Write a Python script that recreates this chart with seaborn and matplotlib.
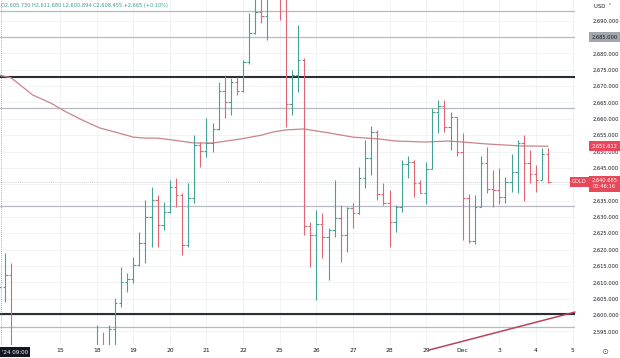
import numpy as np
import pandas as pd
import matplotlib
matplotlib.use("Agg")
import matplotlib.pyplot as plt
import seaborn as sns

# 4h bars, x = bar number (0 = first bar of the 15th); bars 14th/15th that sit below the window are left out
bar_idx = [-10, -9, -8] + list(range(6, 81))
opens = [2605.73, 2608.5, 2612.2,
         2586.0, 2589.0, 2588.0, 2595.6, 2603.7, 2610.2, 2611.0, 2615.3, 2622.1, 2630.1,
         2635.2, 2627.5, 2631.6, 2639.2, 2636.7, 2621.4, 2635.7, 2652.0, 2650.3, 2652.7,
         2656.8, 2668.6, 2665.2, 2671.3, 2668.6, 2677.5, 2686.1, 2692.8, 2691.5, 2701.0,
         2712.5, 2698.0, 2664.5, 2673.4, 2678.0, 2627.2, 2624.5, 2627.8, 2623.9, 2626.0,
         2629.6, 2624.5, 2632.6, 2631.1, 2641.8, 2647.9, 2656.1, 2636.9, 2634.2, 2628.5,
         2633.1, 2646.2, 2646.8, 2640.5, 2637.4, 2644.6, 2662.0, 2663.9, 2657.6, 2660.6,
         2649.9, 2635.7, 2622.7, 2633.1, 2646.6, 2638.4, 2638.2, 2636.2, 2640.8, 2643.6,
         2652.5, 2646.6, 2643.1, 2641.3, 2649.2]
highs = [2611.68, 2618.9, 2615.8,
         2596.9, 2594.9, 2596.9, 2605.1, 2614.8, 2612.7, 2617.8, 2625.5, 2635.2, 2639.2,
         2636.7, 2634.6, 2641.3, 2641.8, 2637.2, 2640.3, 2655.0, 2653.0, 2660.2, 2658.6,
         2671.3, 2673.1, 2672.4, 2672.9, 2678.0, 2692.3, 2698.5, 2699.0, 2704.0, 2712.0,
         2721.0, 2699.5, 2674.9, 2688.7, 2678.6, 2628.5, 2632.1, 2631.1, 2626.5, 2641.3,
         2633.6, 2633.1, 2634.2, 2645.4, 2653.5, 2657.8, 2656.6, 2640.5, 2638.2, 2633.6,
         2647.4, 2648.6, 2647.4, 2641.3, 2646.9, 2663.3, 2665.7, 2665.6, 2662.2, 2660.6,
         2655.6, 2637.0, 2636.7, 2648.6, 2651.5, 2644.3, 2644.9, 2642.3, 2649.2, 2653.4,
         2655.2, 2650.5, 2645.9, 2651.1, 2651.1]
lows = [2600.894, 2604.1, 2584.0,
        2582.0, 2584.0, 2586.0, 2589.0, 2602.5, 2607.1, 2609.7, 2615.0, 2615.8, 2620.9,
        2620.9, 2626.0, 2631.1, 2633.1, 2618.3, 2620.9, 2634.2, 2645.4, 2648.4, 2649.9,
        2656.6, 2660.2, 2661.2, 2667.3, 2668.3, 2676.9, 2685.8, 2689.3, 2684.1, 2698.5,
        2690.2, 2657.6, 2661.2, 2668.3, 2624.5, 2614.8, 2604.6, 2617.3, 2610.7, 2623.9,
        2616.3, 2619.4, 2626.5, 2630.8, 2638.7, 2642.8, 2635.2, 2633.6, 2620.9, 2625.5,
        2631.6, 2641.9, 2636.2, 2637.2, 2633.9, 2644.5, 2655.7, 2656.0, 2650.5, 2648.6,
        2622.9, 2622.0, 2621.7, 2633.1, 2637.2, 2633.1, 2633.9, 2634.3, 2637.7, 2637.3,
        2634.9, 2640.4, 2637.7, 2641.3, 2640.3]
closes = [2608.455, 2612.2, 2588.0,
          2589.0, 2588.0, 2595.6, 2603.7, 2610.2, 2611.0, 2615.3, 2622.1, 2630.1, 2635.2,
          2627.5, 2631.6, 2639.2, 2636.7, 2621.4, 2635.7, 2652.0, 2650.3, 2652.7, 2656.8,
          2668.6, 2665.2, 2671.3, 2668.6, 2677.5, 2686.1, 2692.8, 2691.5, 2701.0, 2710.5,
          2698.0, 2664.5, 2673.4, 2678.0, 2627.2, 2624.5, 2627.8, 2623.9, 2626.0, 2629.6,
          2624.5, 2632.6, 2631.1, 2641.8, 2647.9, 2656.1, 2636.9, 2634.2, 2628.5, 2633.1,
          2646.2, 2646.8, 2640.5, 2637.4, 2644.6, 2662.0, 2663.9, 2657.6, 2660.6, 2649.9,
          2635.7, 2622.7, 2633.1, 2646.6, 2638.4, 2638.2, 2636.2, 2640.8, 2643.6, 2652.5,
          2646.6, 2643.1, 2641.3, 2649.2, 2640.685]

# moving average
ma_idx = [-10, -8, -6.5, -4.5, -1.5, 1, 4, 6.5, 9.5, 12, 14, 16, 18.5, 22, 25, 29.5,
          33, 35, 37, 40, 44, 48, 52.5, 55, 60, 63.5, 66, 70, 75.5, 80]
ma_val = [2673.4, 2672.5, 2670.3, 2667.3, 2664.8, 2662.1, 2659.3, 2657.2, 2655.7,
          2654.4, 2654.1, 2654.1, 2653.5, 2652.6, 2652.6, 2653.8, 2655.0, 2656.0,
          2656.6, 2656.9, 2655.7, 2654.4, 2653.8, 2653.2, 2652.9, 2653.2, 2652.9,
          2652.3, 2651.7, 2651.612]

# drawings
trend_idx = [60.5, 84.4]
trend_val = [2589.3, 2600.9]
gray_levels = [2693.0, 2685.0, 2663.2, 2633.3, 2596.3]
black_levels = [2672.7, 2600.3]

day_idx = list(range(0, 85, 6))
day_labels = ["15", "18", "19", "20", "21", "22", "25", "26", "27", "28", "29",
              "Dec", "3", "4", "5"]
price_ticks = list(range(2595, 2695, 5))
hidden_ticks = [2685, 2640]   # covered by the highlighted price boxes

up, down = "#45a396", "#e06674"
red_box = "#e8485a"

sns.set_theme(style="white")
plt.rcParams['font.family'] = ['DejaVu Sans']

fig = plt.figure(figsize=(6.2, 3.58), dpi=100)
ax = fig.add_axes([0, 13 / 358, 575 / 620, 345 / 358])
ax.set_xlim(-9.84, 84.4)
ax.set_ylim(2590.83, 2696.33)

ax.set_xticks(day_idx)
ax.set_xticklabels(day_labels)
ax.set_yticks(price_ticks)
ax.set_yticklabels(["" if p in hidden_ticks else f"{p:,.3f}" for p in price_ticks])
ax.yaxis.tick_right()
ax.grid(True, color="#eff1f5", lw=0.6, zorder=0)
ax.tick_params(axis="x", labelsize=4.3, pad=2.5, length=0, colors="#131722")
ax.tick_params(axis="y", labelsize=3.7, pad=13, length=0, colors="#131722")
for s in ax.spines.values():
    s.set_visible(False)

for lv in gray_levels:
    ax.axhline(lv, color="#b7b9c0", lw=0.9, zorder=1)
for lv in black_levels:
    ax.axhline(lv, color="#2a2e39", lw=1.5, zorder=1)

df = pd.DataFrame({"i": bar_idx, "o": opens, "h": highs, "l": lows, "c": closes})
cols = np.where(df["c"] >= df["o"], up, down)
ax.axhline(closes[-1], color="#d3d3d3", lw=0.7, ls=(0, (1, 1)), zorder=1)
ax.vlines(df["i"], df["l"], df["h"], colors=cols, lw=0.8, zorder=3)
ax.hlines(df["o"], df["i"] - 0.4, df["i"], colors=cols, lw=0.8, zorder=3)
ax.hlines(df["c"], df["i"], df["i"] + 0.4, colors=cols, lw=0.8, zorder=3)

sns.lineplot(x=ma_idx, y=ma_val, ax=ax, color="#c98489", lw=0.9, sort=False, legend=False, zorder=2)
sns.lineplot(x=trend_idx, y=trend_val, ax=ax, color="#b94457", lw=1.1, sort=False, legend=False, zorder=2)
ax.lines[-1].set_clip_on(False)

# crosshair
ax.axvline(-9.75, color="#9598a1", lw=0.6, ls=(0, (1, 1.5)), zorder=1)

ytr = ax.get_yaxis_transform()
lab = dict(fontsize=3.7, ha="center", va="center", transform=ytr, clip_on=False)
ax.text(1.0515, 2685.0, "2,685.000", color="#131722",
        bbox=dict(boxstyle="square,pad=0.45", fc="#a3a6ae", ec="none"), **lab)
ax.text(1.0515, ma_val[-1], f"{ma_val[-1]:,.3f}", color="white",
        bbox=dict(boxstyle="square,pad=0.45", fc=red_box, ec="none"), **lab)
ax.text(1.0075, closes[-1], "GOLD", color="white",
        bbox=dict(boxstyle="square,pad=0.4", fc=red_box, ec="none"), **lab)
ax.annotate(f"{closes[-1]:,.3f}\n01:46:16", xy=(1.0515, closes[-1]), xycoords=ytr,
            xytext=(0, 2.8), textcoords="offset points", ha="center", va="top",
            fontsize=3.7, color="white", linespacing=1.35, annotation_clip=False,
            bbox=dict(boxstyle="square,pad=0.45", fc=red_box, ec="none"))

fig.text(0.002, 1 - 5 / 358, "O2,605.730 H2,611.680 L2,600.894 C2,608.455 +2.665 (+0.10%)",
         fontsize=3.6, color="#3a9e90", va="center", ha="left")
fig.text(603 / 620, 1 - 6 / 358, "USD  \u02c5", fontsize=3.8, color="#131722", va="center", ha="center")
fig.text(2 / 620, 1 - 352 / 358, "'24 09:00", fontsize=4.0, color="white", va="center", ha="left",
         bbox=dict(boxstyle="square,pad=0.4", fc="#131722", ec="none"))
fig.text(605 / 620, 1 - 352 / 358, "\u2299", fontsize=6, color="#555555", va="center", ha="center")

fig.savefig("out.png", dpi=100)
